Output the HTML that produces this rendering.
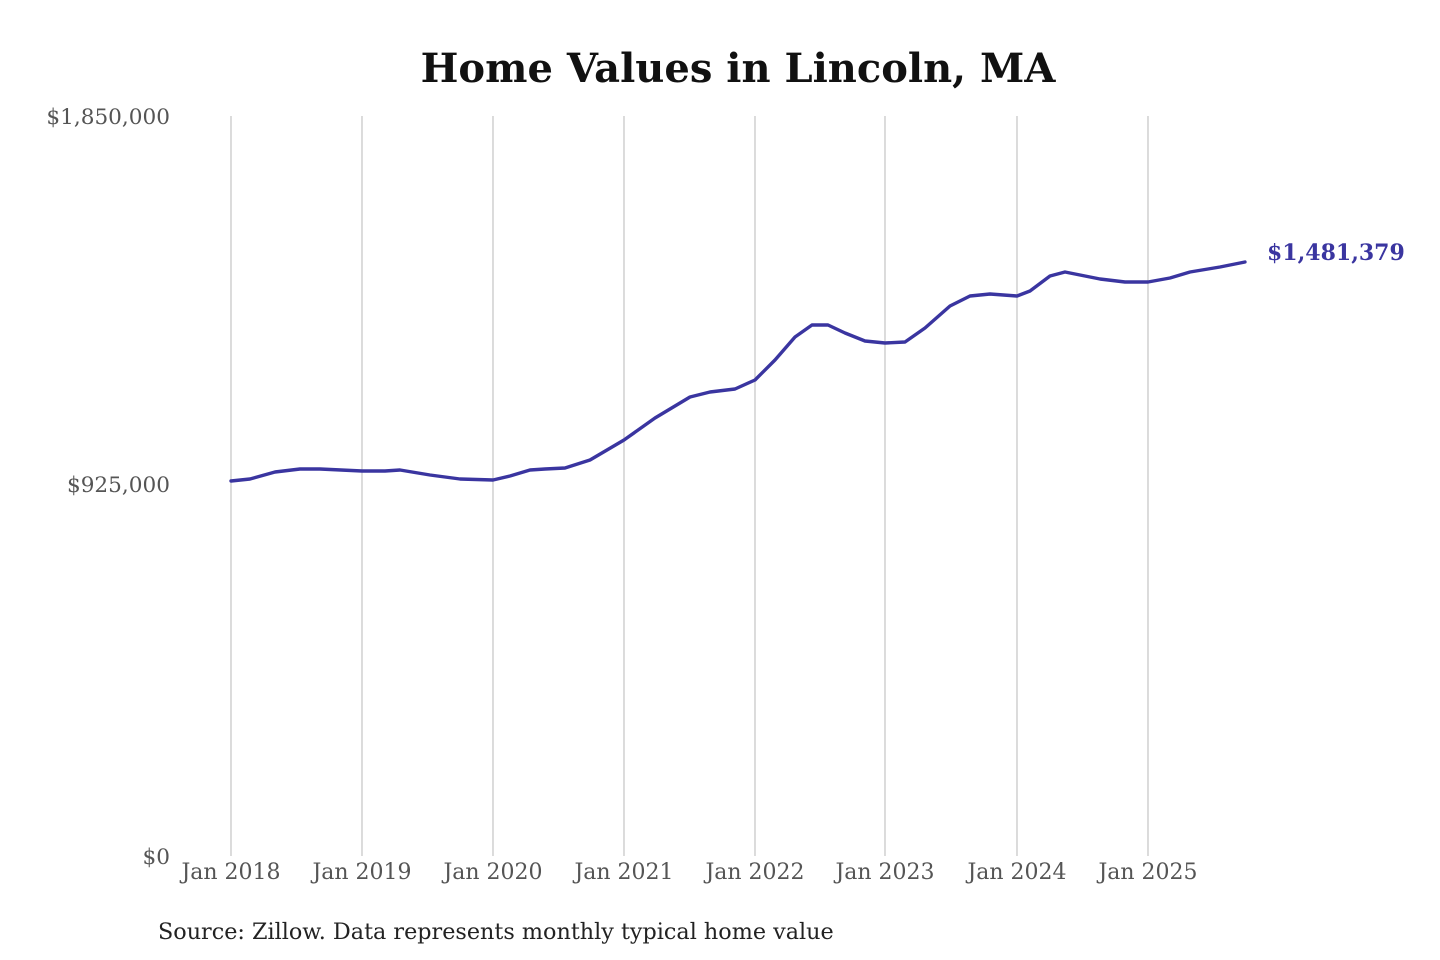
<!DOCTYPE html>
<html><head><meta charset="utf-8"><style>
html,body{margin:0;padding:0;background:#fff;}
svg{display:block;font-family:"DejaVu Serif","Liberation Serif",serif;}
</style></head><body>
<svg width="1440" height="960" viewBox="0 0 1440 960" xmlns="http://www.w3.org/2000/svg">
<rect width="1440" height="960" fill="#fff"/>
<text x="738" y="82" text-anchor="middle" font-size="40" font-weight="bold" fill="#111">Home Values in Lincoln, MA</text>
<g stroke="#c8c8c8" stroke-width="1.3">
<line x1="231" y1="116" x2="231" y2="856"/>
<line x1="362" y1="116" x2="362" y2="856"/>
<line x1="493" y1="116" x2="493" y2="856"/>
<line x1="624" y1="116" x2="624" y2="856"/>
<line x1="755" y1="116" x2="755" y2="856"/>
<line x1="885" y1="116" x2="885" y2="856"/>
<line x1="1017" y1="116" x2="1017" y2="856"/>
<line x1="1148" y1="116" x2="1148" y2="856"/>
</g>
<g font-size="21.6" fill="#555" text-anchor="end">
<text x="170" y="124">$1,850,000</text>
<text x="170" y="492">$925,000</text>
<text x="170" y="864">$0</text>
</g>
<g font-size="22" fill="#555" text-anchor="middle">
<text x="231" y="879">Jan 2018</text>
<text x="362" y="879">Jan 2019</text>
<text x="493" y="879">Jan 2020</text>
<text x="624" y="879">Jan 2021</text>
<text x="755" y="879">Jan 2022</text>
<text x="885" y="879">Jan 2023</text>
<text x="1017" y="879">Jan 2024</text>
<text x="1148" y="879">Jan 2025</text>
</g>
<polyline fill="none" stroke="#3a35a0" stroke-width="3.4" stroke-linejoin="round" stroke-linecap="round"
points="231,481 250,479 275,472 300,469 320,469 362,471 385,471 400,470 430,475 460,479 493,480 510,476 530,470 545,469 565,468 590,460 624,440 655,418 690,397 710,392 735,389 755,380 775,360 795,337 812,325 828,325 845,333 865,341 885,343 905,342 925,328 950,306 970,296 990,294 1017,296 1030,291 1050,276 1065,272 1080,275 1100,279 1125,282 1148,282 1170,278 1190,272 1220,267 1245,262"/>
<text x="1267" y="260" font-size="22" font-weight="bold" fill="#3a35a0">$1,481,379</text>
<text x="158" y="939" font-size="22.3" fill="#222">Source: Zillow. Data represents monthly typical home value</text>
</svg>
</body></html>
